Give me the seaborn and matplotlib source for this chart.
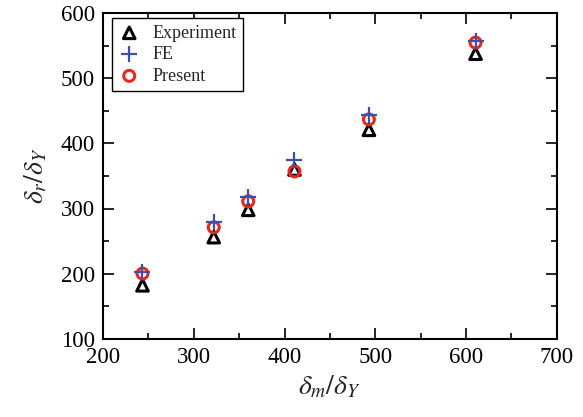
import matplotlib
matplotlib.use("Agg")
import matplotlib.pyplot as plt
import seaborn as sns
import pandas as pd
from matplotlib.ticker import MultipleLocator

delta_m = [243.5, 322, 360, 411, 493, 610.5]
experiment = [182, 256, 298, 360, 421, 538]
fe = [202, 280, 318, 374, 444, 557]
present = [200, 271, 311, 357, 437, 555]

sns.set_style("ticks")
plt.rcParams['font.family'] = ['Liberation Serif', 'DejaVu Serif']
plt.rcParams['mathtext.fontset'] = 'stix'

fig = plt.figure(figsize=(5.83, 4.17), dpi=100)
ax = fig.add_axes([0.1767, 0.188, 0.7783, 0.78])

df_e = pd.DataFrame({"x": delta_m, "y": experiment})
df_f = pd.DataFrame({"x": delta_m, "y": fe})
df_p = pd.DataFrame({"x": delta_m, "y": present})

sns.scatterplot(data=df_e, x="x", y="y", ax=ax, marker="^", s=70,
                facecolor="none", edgecolor="black", linewidth=2.2, label="Experiment", zorder=3)
sns.scatterplot(data=df_f, x="x", y="y", ax=ax, marker="+", s=130,
                color="#3D4FA8", linewidth=1.6, label="FE", zorder=5)
sns.scatterplot(data=df_p, x="x", y="y", ax=ax, marker="o", s=62,
                facecolor="none", edgecolor="#E8281E", linewidth=2.2, label="Present", zorder=4)

ax.set_xlim(200, 700)
ax.set_ylim(100, 600)
ax.xaxis.set_major_locator(MultipleLocator(100))
ax.xaxis.set_minor_locator(MultipleLocator(50))
ax.yaxis.set_major_locator(MultipleLocator(100))
ax.yaxis.set_minor_locator(MultipleLocator(50))
ax.tick_params(which="both", direction="in", top=True, right=True, width=1.2, colors="black")
ax.tick_params(which="major", length=8, labelsize=16.5, pad=6)
ax.tick_params(which="minor", length=4)
for sp in ax.spines.values():
    sp.set_linewidth(1.5)
    sp.set_color("black")
    sp.set_visible(True)

ax.set_xlabel(r"$\delta_m/\delta_Y$", fontsize=20, labelpad=4)
ax.set_ylabel(r"$\delta_r/\delta_Y$", fontsize=20, labelpad=8)

leg = ax.legend(loc="upper left", bbox_to_anchor=(0.02, 0.985), fontsize=13, frameon=True,
                fancybox=False, edgecolor="black", borderpad=0.35, labelspacing=0.25,
                handletextpad=0.7, handlelength=1.2, borderaxespad=0.0)
leg.get_frame().set_linewidth(1.0)
leg.get_frame().set_alpha(1)

fig.savefig("out.png", dpi=100)
